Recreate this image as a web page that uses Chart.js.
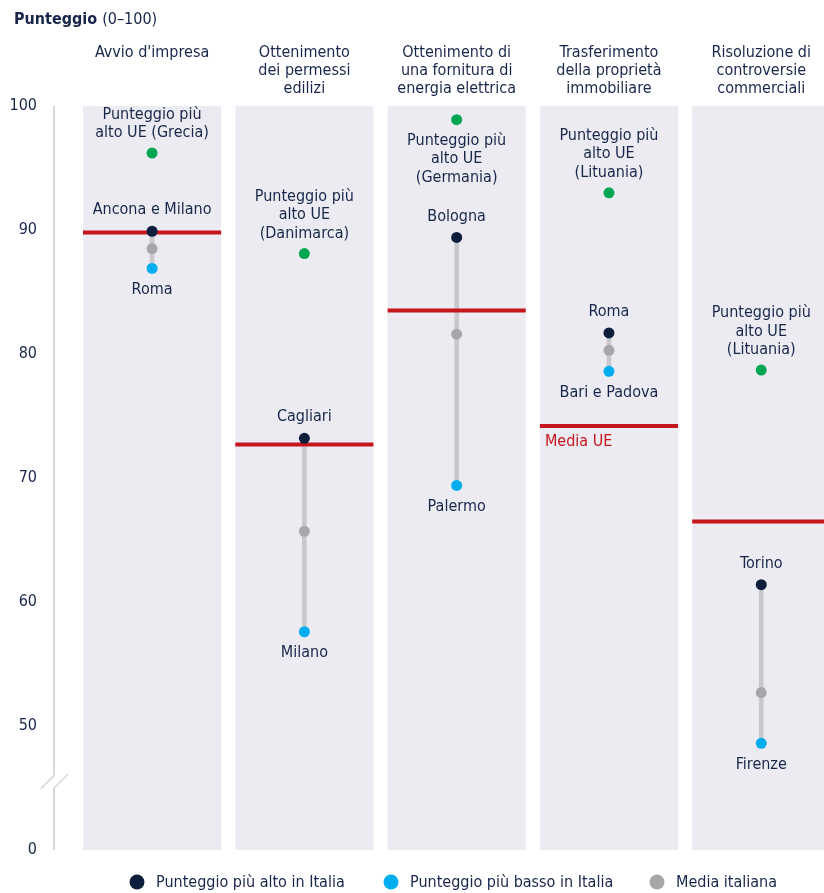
<!DOCTYPE html>
<html lang="it">
<head>
<meta charset="utf-8">
<title>Punteggio (0–100)</title>
<script src="https://cdn.jsdelivr.net/npm/chart.js@4.4.1/dist/chart.umd.min.js"></script>
<style>
  html, body { margin: 0; padding: 0; background: #fff; overflow: hidden; }
  #wrap { position: relative; width: 824px; height: 893px; }
</style>
</head>
<body>
<div id="wrap"><canvas id="chart" width="824" height="893"></canvas></div>
<script>
// Panel headings, one entry per line
const categories = [
  ["Avvio d'impresa"],
  ['Ottenimento', 'dei permessi', 'edilizi'],
  ['Ottenimento di', 'una fornitura di', 'energia elettrica'],
  ['Trasferimento', 'della proprietà', 'immobiliare'],
  ['Risoluzione di', 'controversie', 'commerciali']
];

const euAverage    = [89.8, 72.7, 83.5, 74.2, 66.5];
const euBest       = [96.2, 88.1, 98.9, 93.0, 78.7];
const italyBest    = [89.9, 73.2, 89.4, 81.7, 61.4];
const italyAverage = [88.5, 65.7, 81.6, 80.3, 52.7];
const italyWorst   = [86.9, 57.6, 69.4, 78.6, 48.6];

const euBestLabels = [
  ['Punteggio più', 'alto UE (Grecia)'],
  ['Punteggio più', 'alto UE', '(Danimarca)'],
  ['Punteggio più', 'alto UE', '(Germania)'],
  ['Punteggio più', 'alto UE', '(Lituania)'],
  ['Punteggio più', 'alto UE', '(Lituania)']
];
const euBestLabelSide = ['above', 'above', 'below', 'above', 'above'];
const bestCity  = ['Ancona e Milano', 'Cagliari', 'Bologna', 'Roma', 'Torino'];
const worstCity = ['Roma', 'Milano', 'Palermo', 'Bari e Padova', 'Firenze'];

// Broken axis: the bottom value stands for 0
const AXIS_FLOOR = 40;
const yTickValues = [40, 50, 60, 70, 80, 90, 100];
const yTickLabels = ['0', '50', '60', '70', '80', '90', '100'];
const euAverageLabelPanel = 3;

const FONT = "'Liberation Sans Narrow', 'DejaVu Sans Condensed', sans-serif";
const TEXT = '#17264a';
const NAVY = '#0d1e3d';
const BLUE = '#00aeef';
const GREY = '#a7a7aa';
const GREEN = '#00a651';
const RED = '#c4161c';
const PANEL = '#ecebf1';

const xs = categories.map((_, i) => i);
const toPoints = arr => arr.map((v, i) => ({ x: i, y: v }));

function writeLines(ctx, lines, x, y, lineHeight, anchor) {
  // anchor 'bottom': last line sits on y; 'top': first line sits on y
  const start = anchor === 'bottom' ? y - (lines.length - 1) * lineHeight : y;
  lines.forEach((line, k) => ctx.fillText(line, x, start + k * lineHeight));
}

const annotations = {
  id: 'annotations',
  beforeDatasetsDraw(chart) {
    const { ctx, scales: { y }, chartArea } = chart;
    // y axis line with break marks
    const axisX = chartArea.left;
    const breakTop = y.getPixelForValue(AXIS_FLOOR + 6.0);
    const breakBottom = y.getPixelForValue(AXIS_FLOOR + 5.0);
    ctx.save();
    ctx.strokeStyle = '#d6d6d9';
    ctx.lineWidth = 2;
    ctx.beginPath();
    ctx.moveTo(axisX, y.getPixelForValue(100));
    ctx.lineTo(axisX, breakTop);
    ctx.moveTo(axisX, breakBottom);
    ctx.lineTo(axisX, y.getPixelForValue(AXIS_FLOOR));
    ctx.stroke();
    ctx.lineWidth = 1.5;
    ctx.beginPath();
    ctx.moveTo(axisX - 13, breakTop + 13);
    ctx.lineTo(axisX, breakTop);
    ctx.moveTo(axisX, breakBottom);
    ctx.lineTo(axisX + 14, breakBottom - 14);
    ctx.stroke();
    ctx.restore();
  },
  afterDatasetsDraw(chart) {
    const { ctx, scales: { x, y } } = chart;
    ctx.save();
    ctx.fillStyle = TEXT;
    ctx.textBaseline = 'middle';

    // title
    ctx.textAlign = 'left';
    ctx.font = `bold 16px ${FONT}`;
    ctx.fillText('Punteggio', 14, 20);
    const w = ctx.measureText('Punteggio ').width;
    ctx.font = `16px ${FONT}`;
    ctx.fillText('(0–100)', 14 + w, 20);

    ctx.textAlign = 'center';
    categories.forEach((lines, i) => {
      const cx = x.getPixelForValue(i);
      writeLines(ctx, lines, cx, 53, 18, 'top');

      const gy = y.getPixelForValue(euBest[i]);
      if (euBestLabelSide[i] === 'above') writeLines(ctx, euBestLabels[i], cx, gy - 20, 18.5, 'bottom');
      else writeLines(ctx, euBestLabels[i], cx, gy + 21, 18.5, 'top');

      ctx.fillText(bestCity[i], cx, y.getPixelForValue(italyBest[i]) - 21);
      ctx.fillText(worstCity[i], cx, y.getPixelForValue(italyWorst[i]) + 21);
    });

    // EU average caption
    const meta = chart.getDatasetMeta(4).data[euAverageLabelPanel];
    ctx.fillStyle = RED;
    ctx.textAlign = 'left';
    ctx.fillText('Media UE', meta.x - meta.width / 2 + 5, y.getPixelForValue(euAverage[euAverageLabelPanel]) + 16);

    // legend
    const legend = [
      { color: NAVY, text: 'Punteggio più alto in Italia', x: 137 },
      { color: BLUE, text: 'Punteggio più basso in Italia', x: 391 },
      { color: GREY, text: 'Media italiana', x: 657 }
    ];
    ctx.font = `16px ${FONT}`;
    legend.forEach(item => {
      ctx.fillStyle = item.color;
      ctx.beginPath();
      ctx.arc(item.x, 882, 7.5, 0, Math.PI * 2);
      ctx.fill();
      ctx.fillStyle = TEXT;
      ctx.fillText(item.text, item.x + 19, 883);
    });
    ctx.restore();
  }
};

const ctx = document.getElementById('chart').getContext('2d');
new Chart(ctx, {
  type: 'bar',
  data: {
    datasets: [
      {
        type: 'line', label: 'Punteggio più alto UE', data: toPoints(euBest),
        showLine: false, pointRadius: 5.5, pointBackgroundColor: GREEN, pointBorderWidth: 0, order: 0
      },
      {
        type: 'line', label: 'Punteggio più alto in Italia', data: toPoints(italyBest),
        showLine: false, pointRadius: 5.5, pointBackgroundColor: NAVY, pointBorderWidth: 0, order: 0
      },
      {
        type: 'line', label: 'Punteggio più basso in Italia', data: toPoints(italyWorst),
        showLine: false, pointRadius: 5.5, pointBackgroundColor: BLUE, pointBorderWidth: 0, order: 0
      },
      {
        type: 'line', label: 'Media italiana', data: toPoints(italyAverage),
        showLine: false, pointRadius: 5.5, pointBackgroundColor: GREY, pointBorderWidth: 0, order: 0
      },
      {
        label: 'Media UE', data: xs.map(i => ({ x: i, y: [euAverage[i] - 0.16, euAverage[i] + 0.16] })),
        backgroundColor: RED, grouped: false, categoryPercentage: 1, barPercentage: 0.907, order: 1, clip: false
      },
      {
        label: 'Intervallo Italia', data: xs.map(i => ({ x: i, y: [italyWorst[i], italyBest[i]] })),
        backgroundColor: '#c9c9cd', grouped: false, barThickness: 4, order: 2
      },
      {
        label: 'Pannello', data: xs.map(i => ({ x: i, y: [AXIS_FLOOR, 100] })),
        backgroundColor: PANEL, grouped: false, categoryPercentage: 1, barPercentage: 0.907, order: 3, clip: false
      }
    ]
  },
  options: {
    responsive: false,
    animation: false,
    devicePixelRatio: 1,
    layout: { padding: { top: 106, bottom: 43, left: 0, right: 0 } },
    plugins: { legend: { display: false }, tooltip: { enabled: false } },
    scales: {
      x: {
        type: 'linear', display: false, offset: false,
        min: -0.644, max: 4.376,
        ticks: { stepSize: 1, includeBounds: false }
      },
      y: {
        min: AXIS_FLOOR, max: 100,
        grid: { display: false, drawTicks: false },
        border: { display: false },
        afterBuildTicks: scale => { scale.ticks = yTickValues.map(v => ({ value: v })); },
        afterFit: scale => { scale.width = 54; },
        ticks: {
          padding: 17, color: TEXT, font: { family: FONT, size: 16 },
          callback: v => yTickLabels[yTickValues.indexOf(v)]
        }
      }
    }
  },
  plugins: [annotations]
});
</script>
</body>
</html>
